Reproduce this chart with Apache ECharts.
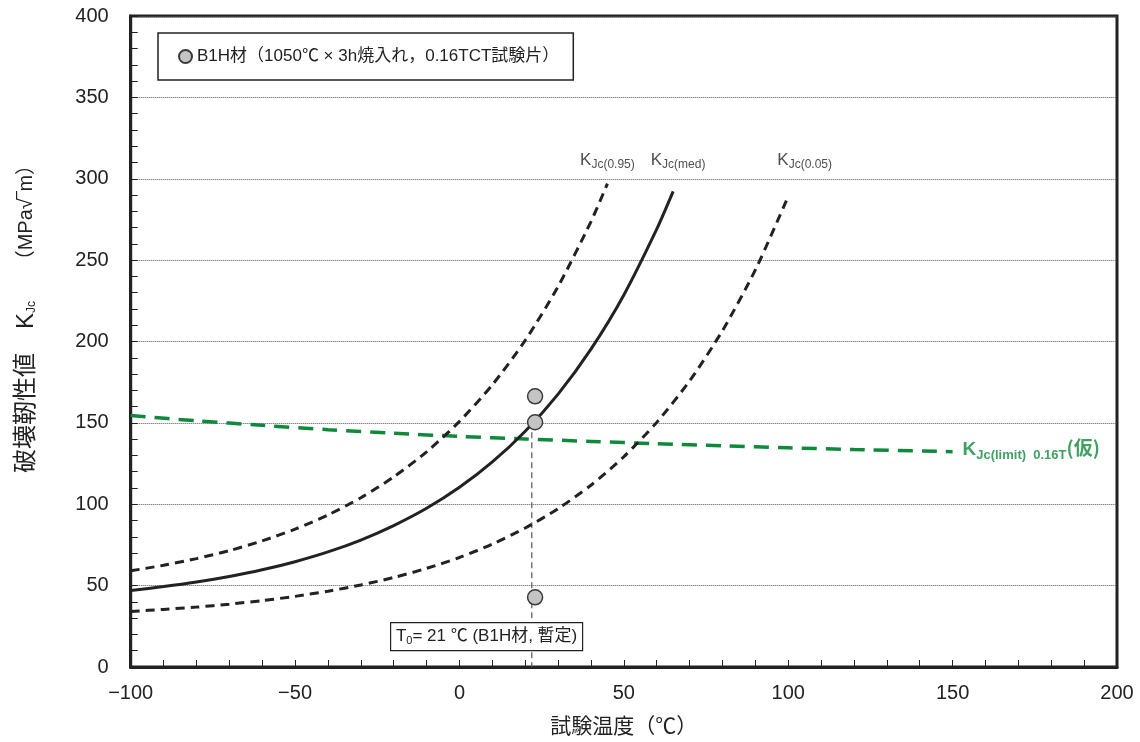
<!DOCTYPE html>
<html><head><meta charset="utf-8">
<script src="https://cdn.jsdelivr.net/npm/echarts@6/dist/echarts.min.js"></script>
<style>html,body{margin:0;padding:0;background:#fff}#c{width:1140px;height:742px}</style>
</head><body><div id="c"></div>
<script>
// ---- data ----
const tMed = [-100,-90,-80,-70,-60,-50,-40,-30,-20,-10,0,10,20,30,40,50,60,65];
const kMed = [47.0,49.4,52.2,55.6,59.7,64.7,70.7,78.0,86.9,97.5,110.4,126.0,144.9,167.7,195.3,228.6,269.0,292.2];
const t95 = [-100,-90,-80,-70,-60,-50,-40,-30,-20,-10,0,10,20,30,40,45];
const k95 = [59.1,62.5,66.6,71.5,77.5,84.7,93.4,104.0,116.8,132.2,150.9,173.4,200.7,233.8,273.7,297.0];
const t05 = [-100,-90,-80,-70,-60,-50,-40,-30,-20,-10,0,10,20,30,40,50,60,70,80,90,100];
const k05 = [34.1,35.4,36.8,38.6,40.8,43.4,46.6,50.4,55.0,60.6,67.3,75.5,85.4,97.3,111.7,129.2,150.3,175.8,206.7,244.0,289.2];
const tLim = [-100,-80,-60,-40,-20,0,20,40,60,80,100,120,150];
const kLim = [154.5,151.3,148.5,145.8,143.6,141.7,140.1,138.6,137.2,135.9,134.7,133.6,132.3];
const testTemp = [23,23,23];
const testK = [166.3,150.4,42.8];
const t0Line = [[22,150.4],[22,0]];
const xTicks = [-100,-50,0,50,100,150,200];
const yTicks = [0,50,100,150,200,250,300,350,400];
const curveLabelPos = [[45,311.5,'0.95'],[66.5,311.5,'med'],[105,311.5,'0.05']];
const limitLabelPos = [153,133.3];
const legendName = 'B1H材（1050℃ × 3h焼入れ，0.16TCT試験片）';

const zip = (a,b)=>a.map((v,i)=>[v,b[i]]);
const FONT = '"Liberation Sans","Noto Sans CJK JP",sans-serif';
const INK = '#222';
const GREEN = '#0f8a3d';

const chart = echarts.init(document.getElementById('c'), null, {renderer:'canvas'});
chart.setOption({
  animation:false,
  textStyle:{fontFamily:FONT},
  grid:{left:130.7, right:23, top:16, bottom:75, show:true, borderColor:INK, borderWidth:3,
        backgroundColor:'transparent', containLabel:false, outerBoundsMode:'none'},
  legend:{
    data:[{name:legendName, icon:'circle'}],
    left:158, top:33, orient:'horizontal',
    borderColor:INK, borderWidth:1.5, padding:[15,14,15,20],
    itemWidth:13, itemHeight:13, itemGap:4,
    textStyle:{fontSize:17, color:INK, fontFamily:FONT}
  },
  xAxis:{
    type:'value', min:-100, max:200, interval:50,
    axisLine:{onZero:false, lineStyle:{color:INK,width:3}},
    axisTick:{inside:true, length:7, lineStyle:{color:INK,width:1}},
    minorTick:{show:true, splitNumber:5, length:7, lineStyle:{color:INK,width:1}},
    splitLine:{show:false},
    axisLabel:{fontSize:20, color:INK, margin:16, fontFamily:FONT,
      formatter:v=>xTicks.includes(v)?String(v).replace('-','\u2212'):''},
    name:'試験温度（℃）', nameLocation:'middle', nameGap:50,
    nameTextStyle:{fontSize:21, color:INK, fontFamily:FONT}
  },
  yAxis:{
    type:'value', min:0, max:400, interval:50,
    axisLine:{show:true, onZero:false, lineStyle:{color:INK,width:3}},
    axisTick:{show:true, inside:true, length:7, lineStyle:{color:INK,width:1}},
    minorTick:{show:true, splitNumber:5, length:7, lineStyle:{color:INK,width:1}},
    splitLine:{show:true, lineStyle:{color:'#555', width:1, type:[1,1]}},
    axisLabel:{fontSize:20, color:INK, margin:22, fontFamily:FONT,
      formatter:v=>yTicks.includes(v)?String(v):''}
  },
  graphic:[
    {type:'text', x:26, y:314, rotation:Math.PI/2, z:100,
     style:{text:'破壊靭性値　K{s|Jc}　 {u|（MPa√‾m）}', fill:INK, font:'24px '+FONT,
       align:'center', verticalAlign:'middle',
       rich:{s:{fontSize:12, fill:INK, padding:[12,0,0,0], fontFamily:FONT}, u:{fontSize:20, fill:INK, fontFamily:FONT}}}},
    {type:'group', left:390, top:622, z:100, children:[
      {type:'rect', z:100, shape:{x:0,y:0,width:192,height:28}, style:{fill:'#fff', stroke:INK, lineWidth:1.2}},
      {type:'text', z:101, x:96, y:14, style:{text:'T{s|0}= 21 ℃ (B1H材, 暫定)', fill:INK, font:'17px '+FONT, align:'center', verticalAlign:'middle',
        rich:{s:{fontSize:11, fill:INK, padding:[8,0,0,0]}}}}
    ]}
  ],
  series:[
    {name:'t0', type:'line', data:t0Line, symbol:'none', silent:true, z:1,
     lineStyle:{color:'#555', width:1.2, type:[6,4]}},
    {name:'K95', type:'line', data:zip(t95,k95), symbol:'none', smooth:0.25, z:3,
     lineStyle:{color:INK, width:3, type:[9,6]}},
    {name:'Kmed', type:'line', data:zip(tMed,kMed), symbol:'none', smooth:0.25, z:3,
     lineStyle:{color:INK, width:3}},
    {name:'K05', type:'line', data:zip(t05,k05), symbol:'none', smooth:0.25, z:3,
     lineStyle:{color:INK, width:3, type:[9,6]}},
    {name:'Klim', type:'line', data:zip(tLim,kLim), symbol:'none', smooth:0.3, z:2,
     lineStyle:{color:GREEN, width:3.5, type:[15,9]}},
    {name:legendName, type:'scatter', data:zip(testTemp,testK), symbolSize:15, z:5,
     itemStyle:{color:'#c4c4c4', borderColor:'#3a3a3a', borderWidth:1.5, opacity:1}},
    {name:'curveLabels', type:'scatter', symbolSize:0, silent:true, z:6,
     data:curveLabelPos.map(p=>({value:[p[0],p[1]], lab:p[2]})),
     label:{show:true, position:'inside', color:INK,
       formatter:p=>'{k|K}{s|Jc('+p.data.lab+')}',
       rich:{k:{fontSize:17, color:INK, fontFamily:FONT}, s:{fontSize:12, color:INK, fontFamily:FONT, padding:[9,0,0,0]}}}},
    {name:'limLabel', type:'scatter', symbolSize:0, silent:true, z:6,
     data:[limitLabelPos],
     label:{show:true, position:'right', distance:0, color:GREEN,
       formatter:()=>'{k|K}{s|Jc(limit)  0.16T}{p|(仮)}',
       rich:{k:{fontSize:19, fontWeight:'bold', color:GREEN, fontFamily:FONT},
             s:{fontSize:13, fontWeight:'bold', color:GREEN, fontFamily:FONT, padding:[11,0,0,0]},
             p:{fontSize:19, fontWeight:'bold', color:GREEN, fontFamily:'"Noto Sans CJK JP",sans-serif', padding:[0,0,4,0]}}}}
  ]
});
</script></body></html>
